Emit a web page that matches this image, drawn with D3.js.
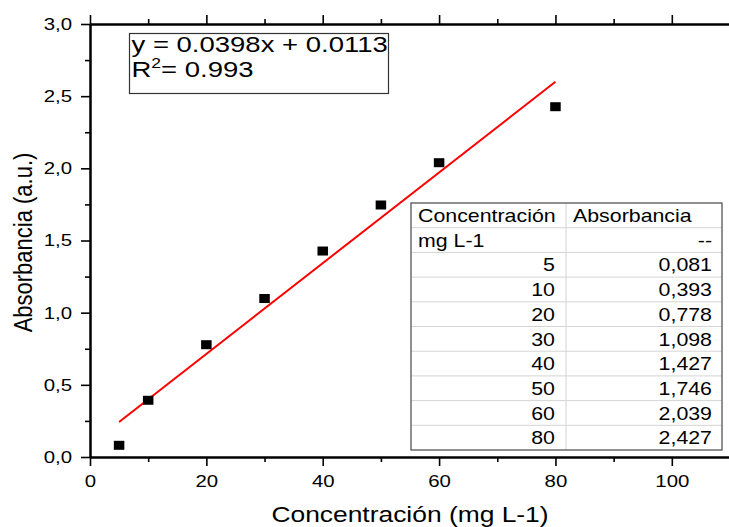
<!DOCTYPE html>
<html>
<head>
<meta charset="utf-8">
<script src="https://cdn.jsdelivr.net/npm/d3@7"></script>
<style>
body{margin:0;background:#fff;}
svg{display:block;font-family:"Liberation Sans",Arial,sans-serif;}
</style>
</head>
<body>
<div id="chart"></div>
<script>
// datos
var conc = [5,10,20,30,40,50,60,80]
var absorb = [0.081,0.393,0.778,1.098,1.427,1.746,2.039,2.427]
// recta de ajuste tal como se ve en la figura (extremos)
var fitX = [5,80]
var fitY = [0.243,2.60]
var eqText = "y = 0.0398x + 0.0113"
var r2Text = "= 0.993"
var xMajor = [0,20,40,60,80,100]
var xMinor = [10,30,50,70,90,110]
var yMajor = [0,0.5,1,1.5,2,2.5,3]
var yMinor = [0.25,0.75,1.25,1.75,2.25,2.75]
var tableHead = [["Concentración","Absorbancia"],["mg L-1","--"]]

var width = 729
var height = 527
var sx = 1.2   // la imagen original esta estirada en horizontal

var svg = d3.select("#chart").append("svg")
    .attr("width",width)
    .attr("height",height)

var es = d3.formatLocale({decimal:",",thousands:".",grouping:[3],currency:["","€"]})
var f1 = es.format(".1f")
var f3 = es.format(".3f")

var x = d3.scaleLinear().domain([0,110]).range([90,730])
var y = d3.scaleLinear().domain([0,3]).range([457,24])

//ejes
function styleAxis(g){
    g.select(".domain").attr("stroke","#000").attr("stroke-width",2)
    g.selectAll(".tick line").attr("stroke","#000").attr("stroke-width",1.6)
}

svg.append("g")
    .attr("transform","translate(0,457)")
    .call(d3.axisBottom(x).tickValues(xMinor).tickSize(5).tickSizeOuter(0).tickFormat(""))
    .call(styleAxis)
var gx = svg.append("g")
    .attr("transform","translate(0,457)")
    .call(d3.axisBottom(x).tickValues(xMajor).tickSize(9).tickSizeOuter(0).tickPadding(9))
    .call(styleAxis)
gx.selectAll("text")
    .attr("font-size",17)
    .attr("font-family","Liberation Sans, Arial, sans-serif")
    .attr("fill","#000")
    .attr("transform","scale("+sx+",1)")

svg.append("g")
    .attr("transform","translate(0,24)")
    .call(d3.axisTop(x).tickValues(xMinor).tickSize(5).tickSizeOuter(0).tickFormat(""))
    .call(styleAxis)
svg.append("g")
    .attr("transform","translate(0,24)")
    .call(d3.axisTop(x).tickValues(xMajor).tickSize(9).tickSizeOuter(0).tickFormat(""))
    .call(styleAxis)

svg.append("g")
    .attr("transform","translate(90,0)")
    .call(d3.axisLeft(y).tickValues(yMinor).tickSize(5).tickSizeOuter(0).tickFormat(""))
    .call(styleAxis)
var gy = svg.append("g")
    .attr("transform","translate(90,0)")
    .call(d3.axisLeft(y).tickValues(yMajor).tickSize(9).tickSizeOuter(0).tickFormat(f1))
    .call(styleAxis)
gy.selectAll("text")
    .attr("font-size",17)
    .attr("font-family","Liberation Sans, Arial, sans-serif")
    .attr("fill","#000")
    .attr("x",-18/sx)
    .attr("transform","scale("+sx+",1)")

//titulos
svg.append("text")
    .attr("transform","translate(410,522) scale("+sx+",1)")
    .attr("text-anchor","middle")
    .attr("font-size",22)
    .attr("fill","#000")
    .text("Concentración (mg L-1)")

svg.append("text")
    .attr("transform","translate(32,242.5) scale("+sx+",1) rotate(-90)")
    .attr("text-anchor","middle")
    .attr("font-size",22)
    .attr("fill","#000")
    .text("Absorbancia (a.u.)")

//recta de ajuste
var fit = fitX.map((d,i)=>({x:d,y:fitY[i]}))
svg.append("path")
    .datum(fit)
    .attr("d",d3.line().x(d=>x(d.x)).y(d=>y(d.y)))
    .attr("stroke","#ff0000")
    .attr("stroke-width",2)
    .attr("fill","none")

//puntos
var pts = conc.map((d,i)=>({x:d,y:absorb[i]}))
svg.append("g")
    .selectAll("rect")
    .data(pts)
    .join("rect")
    .attr("x",d=>x(d.x)-5.25)
    .attr("y",d=>y(d.y)-4.5)
    .attr("width",10.5)
    .attr("height",9)
    .attr("fill","#000")

//caja de la ecuacion
var sEq = 1.25
svg.append("rect")
    .attr("x",129.5)
    .attr("y",33.5)
    .attr("width",259)
    .attr("height",60)
    .attr("fill","#fff")
    .attr("stroke","#333")
    .attr("stroke-width",1.2)
svg.append("text")
    .attr("transform","translate(131.5,52) scale("+sEq+",1)")
    .attr("font-size",22)
    .attr("fill","#000")
    .text(eqText)
var r2 = svg.append("text")
    .attr("transform","translate(131.5,77) scale("+sEq+",1)")
    .attr("font-size",22)
    .attr("fill","#000")
r2.append("tspan").text("R")
r2.append("tspan").attr("font-size",14).attr("dy",-9).text("2")
r2.append("tspan").attr("dy",9).text(r2Text)

//tabla
var tx0 = 411, tx1 = 722, tcol = 566, ty0 = 203, rowH = 24.7
var st = 1.22
var rows = tableHead.concat(conc.map((d,i)=>[String(d),f3(absorb[i])]))
var tb = svg.append("g")
tb.append("rect")
    .attr("x",tx0).attr("y",ty0)
    .attr("width",tx1-tx0).attr("height",rowH*rows.length)
    .attr("fill","#fff")
tb.selectAll("line.row")
    .data(d3.range(1,rows.length))
    .join("line")
    .attr("class","row")
    .attr("x1",tx0).attr("x2",tx1)
    .attr("y1",d=>ty0+d*rowH).attr("y2",d=>ty0+d*rowH)
    .attr("stroke","#d4d4d4")
    .attr("stroke-width",1)
tb.append("line")
    .attr("x1",tcol).attr("x2",tcol)
    .attr("y1",ty0).attr("y2",ty0+rowH*rows.length)
    .attr("stroke","#d4d4d4")
    .attr("stroke-width",1)
tb.append("rect")
    .attr("x",tx0).attr("y",ty0)
    .attr("width",tx1-tx0).attr("height",rowH*rows.length)
    .attr("fill","none")
    .attr("stroke","#555")
    .attr("stroke-width",1.3)

rows.forEach((r,i)=>{
    var by = ty0+i*rowH+19
    var left = i<2
    tb.append("text")
        .attr("transform","translate("+(left?418:555)+","+by+") scale("+st+",1)")
        .attr("text-anchor",left?"start":"end")
        .attr("font-size",17.5)
        .attr("fill","#000")
        .text(r[0])
    tb.append("text")
        .attr("transform","translate("+(i==0?573:712)+","+by+") scale("+st+",1)")
        .attr("text-anchor",i==0?"start":"end")
        .attr("font-size",17.5)
        .attr("fill","#000")
        .text(r[1])
})
</script>
</body>
</html>
